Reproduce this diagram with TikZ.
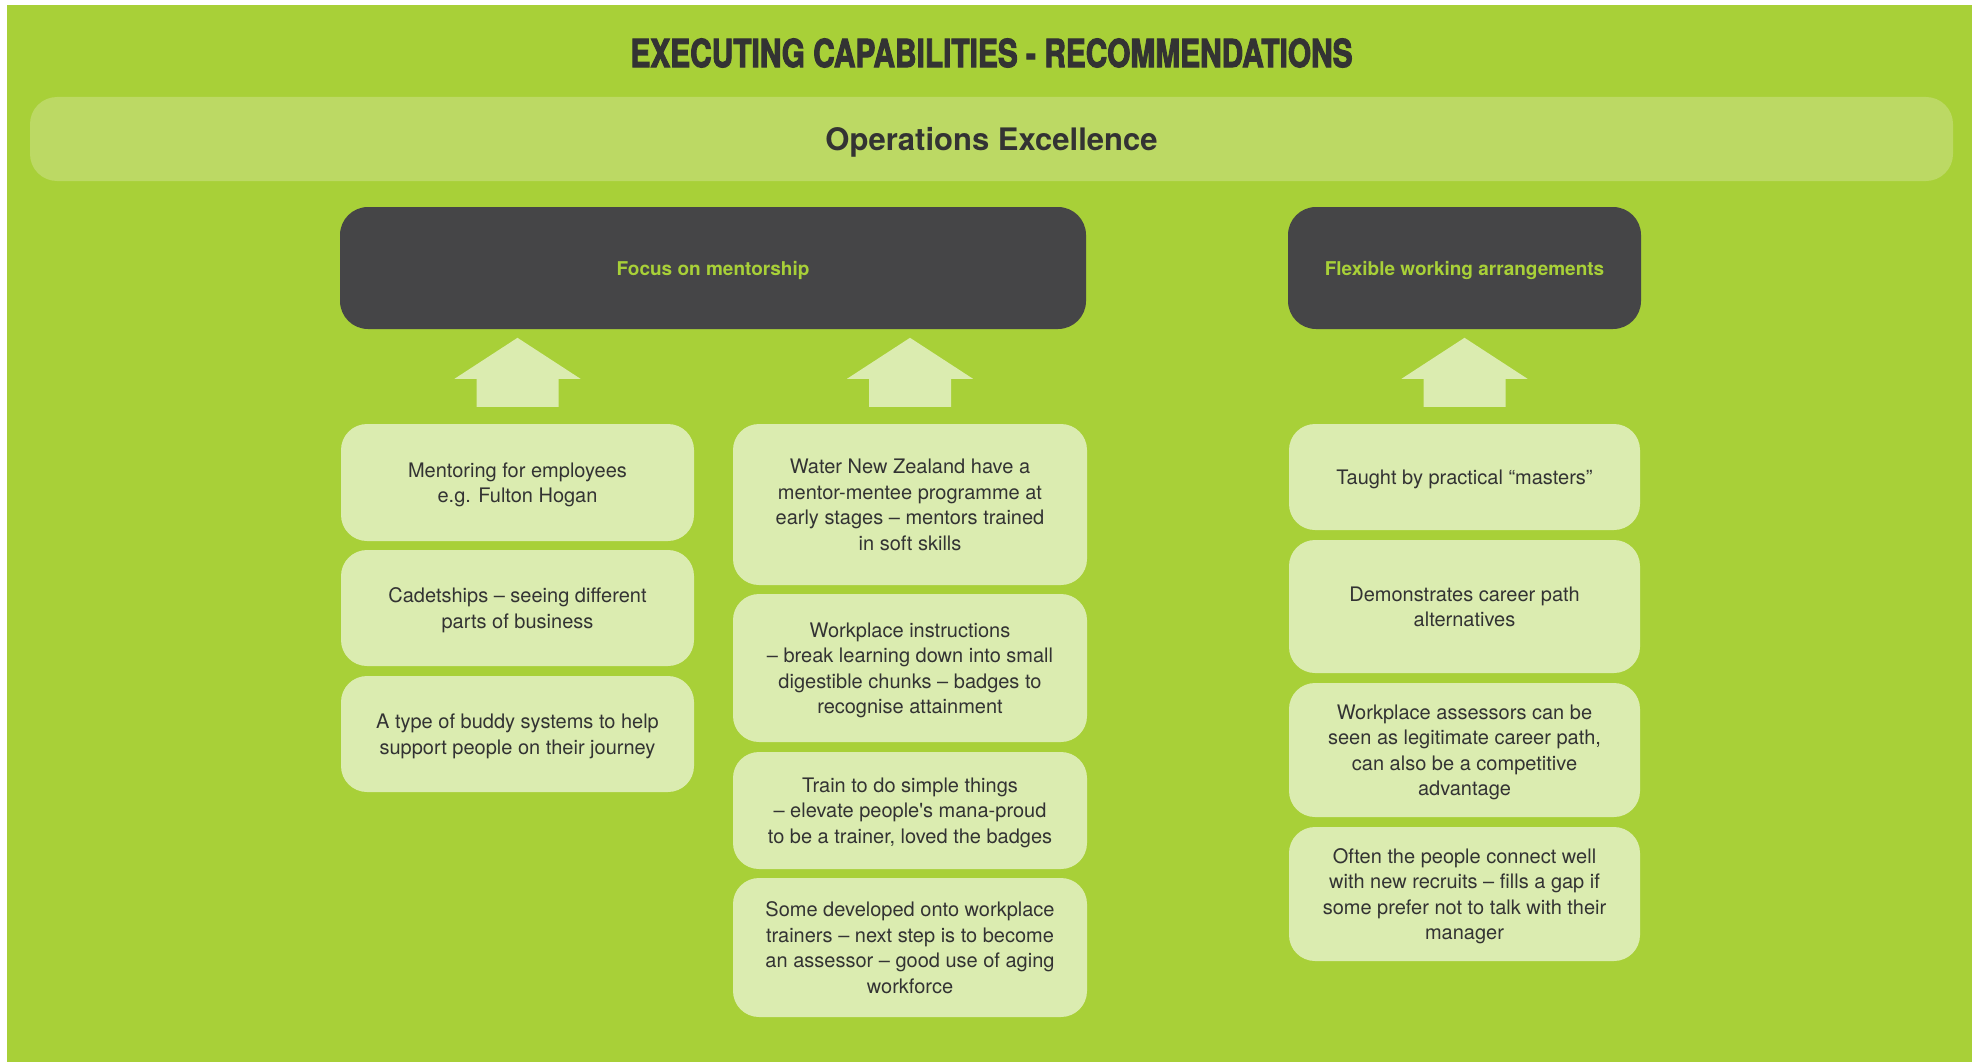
\documentclass[tikz,border=0pt]{standalone}
\usepackage{fontspec}
\setmainfont{TeX Gyre Heros}[Ligatures=TeXOff]
\newfontfamily\titlefont[BoldFeatures={FakeBold=3}]{TeX Gyre Heros}
\usetikzlibrary{calc}
\definecolor{bgc}{HTML}{A8D038}
\definecolor{bandc}{HTML}{BCD964}
\definecolor{boxc}{HTML}{DBECB0}
\definecolor{darkc}{HTML}{454547}
\definecolor{txt}{HTML}{333333}
\newcommand\uparrowblock[1]{%
  \fill[boxc] ($(#1.north)+(0,-86)$) -- ++(63,41) -- ++(-22,0) -- ++(0,28)
    -- ++(-82,0) -- ++(0,-28) -- ++(-22,0) -- cycle;}
\begin{document}
\begin{tikzpicture}[x=1pt,y=-1pt,
  lbox/.style={fill=boxc, rounded corners=26pt, inner sep=0pt, align=center,
    text=txt, text depth=0pt, font=\fontsize{20}{25.5}\selectfont},
  hbox/.style={fill=darkc, rounded corners=28pt, inner sep=0pt, align=center,
    text=bgc, text depth=0pt, font=\fontsize{19}{23}\selectfont\bfseries,
    minimum height=122pt}]
\fill[white] (0,0) rectangle (1977,1062);
\useasboundingbox (0,0) rectangle (1977,1062);
\fill[bgc] (7,5) rectangle (1972,1062);

\node[inner sep=0pt, text=txt] (title) at (991.5,53)
  {\resizebox{722pt}{28.5pt}{\titlefont\bfseries EXECUTING CAPABILITIES - RECOMMENDATIONS}};

\node[fill=bandc, rounded corners=27pt, inner sep=0pt, minimum width=1923pt,
  minimum height=84pt, text=txt, text depth=0pt, font=\fontsize{31}{36}\selectfont\bfseries]
  (band) at (991.5,139) {Operations Excellence};

\node[hbox, minimum width=746pt] (focus) at (713,268) {Focus on mentorship};
\node[hbox, minimum width=353pt] (flex) at (1464.5,268) {Flexible working arrangements};

% left column
\node[lbox, minimum width=353pt, minimum height=117pt] (l1) at (517.5,482.5)
  {Mentoring for employees\\e.g. Fulton Hogan};
\node[lbox, minimum width=353pt, minimum height=116pt] (l2) at (517.5,608)
  {Cadetships – seeing different\\parts of business};
\node[lbox, minimum width=353pt, minimum height=116pt] (l3) at (517.5,734)
  {A type of buddy systems to help\\support people on their journey};

% middle column
\node[lbox, minimum width=354pt, minimum height=161pt] (m1) at (910,504.5)
  {Water New Zealand have a\\mentor-mentee programme at\\early stages – mentors trained\\in soft skills};
\node[lbox, minimum width=354pt, minimum height=148pt] (m2) at (910,668)
  {Workplace instructions\\– break learning down into small\\digestible chunks – badges to\\recognise attainment};
\node[lbox, minimum width=354pt, minimum height=117pt] (m3) at (910,810.5)
  {Train to do simple things\\– elevate people's mana-proud\\to be a trainer, loved the badges};
\node[lbox, minimum width=354pt, minimum height=139pt] (m4) at (910,947.5)
  {Some developed onto workplace\\trainers – next step is to become\\an assessor – good use of aging\\workforce};

% right column
\node[lbox, minimum width=351pt, minimum height=106pt] (r1) at (1464.5,477)
  {Taught by practical “masters”};
\node[lbox, minimum width=351pt, minimum height=133pt] (r2) at (1464.5,606.5)
  {Demonstrates career path\\alternatives};
\node[lbox, minimum width=351pt, minimum height=134pt] (r3) at (1464.5,750)
  {Workplace assessors can be\\seen as legitimate career path,\\can also be a competitive\\advantage};
\node[lbox, minimum width=351pt, minimum height=134pt] (r4) at (1464.5,894)
  {Often the people connect well\\with new recruits – fills a gap if\\some prefer not to talk with their\\manager};

\uparrowblock{l1}
\uparrowblock{m1}
\uparrowblock{r1}
\end{tikzpicture}
\end{document}
